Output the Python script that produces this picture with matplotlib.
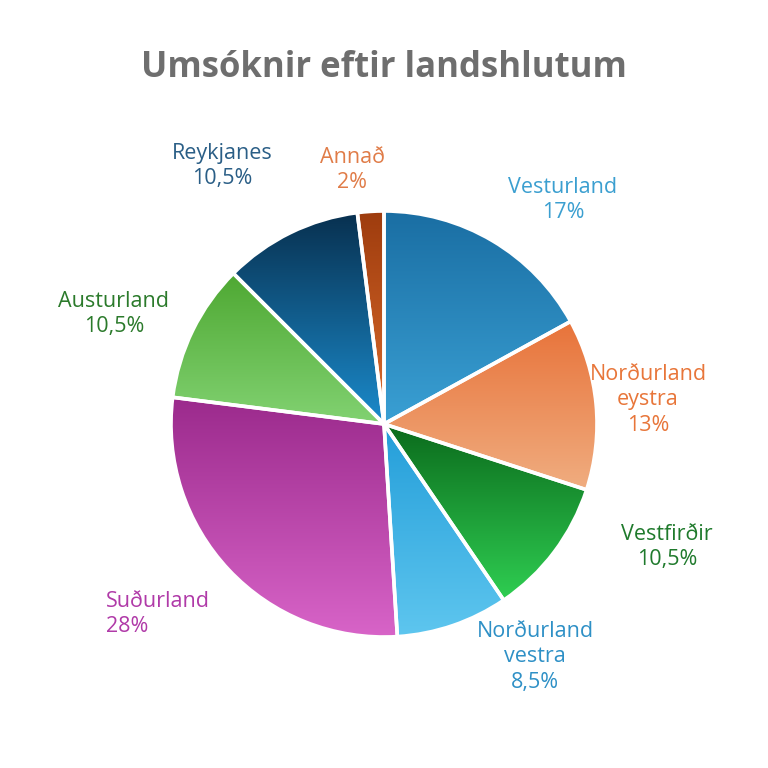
import numpy as np
import matplotlib
matplotlib.use("Agg")
import matplotlib.pyplot as plt
from matplotlib.colors import LinearSegmentedColormap

# ---- data ----
categories = ["Vesturland", "Norðurland\neystra", "Vestfirðir", "Norðurland\nvestra",
              "Suðurland", "Austurland", "Reykjanes", "Annað"]
values = [17, 13, 10.5, 8.5, 28, 10.5, 10.5, 2]
value_labels = ["17%", "13%", "10,5%", "8,5%", "28%", "10,5%", "10,5%", "2%"]
title = "Umsóknir eftir landshlutum"

# ---- style ----
top_colors = ["#1a6ea3", "#e8733a", "#0b6a1c", "#249ed9", "#9b2a8c", "#4ea832", "#08304f", "#9e3c0e"]
bot_colors = ["#3aa0d4", "#f0ad80", "#2fce52", "#5ec6ef", "#d864c8", "#82d272", "#1b8bcc", "#dc6c2c"]
label_colors = ["#3b9fd0", "#e8763a", "#1f7a2c", "#2e90c6", "#b03aa8", "#2b7a2b", "#2a5e86", "#e07c48"]
# label positions in pixels (layout only)
label_px = [(563, 200), (648, 400), (667, 547), (535, 657), (106, 614),
            (114, 314), (222, 166), (352, 170)]
label_ha = ["center"] * 8
label_ha[4] = "left"

plt.rcParams['font.family'] = ['Open Sans', 'DejaVu Sans']

W = H = 768
cx, cy, R = 384, 424, 213
fig = plt.figure(figsize=(7.68, 7.68), dpi=100)
fig.patch.set_facecolor("white")
ax = fig.add_axes([0, 0, 1, 1])
ax.set_xlim(-cx / R, (W - cx) / R)
ax.set_ylim(-(H - cy) / R, cy / R)
ax.set_aspect("equal")
ax.axis("off")

wedges, _ = ax.pie(values, startangle=90, counterclock=False, radius=1,
                   wedgeprops=dict(edgecolor="white", linewidth=2.6, facecolor="none"))

for w, c0, c1 in zip(wedges, top_colors, bot_colors):
    bb = w.get_path().get_extents(w.get_patch_transform())
    cmap = LinearSegmentedColormap.from_list("g", [c1, c0])
    grad = np.linspace(0, 1, 256).reshape(-1, 1)
    im = ax.imshow(grad, cmap=cmap, origin="lower", aspect="auto",
                   extent=[bb.x0, bb.x1, bb.y0, bb.y1], zorder=1, interpolation="bilinear")
    im.set_clip_path(w)
    w.set_zorder(2)

ax.set_xlim(-cx / R, (W - cx) / R)
ax.set_ylim(-(H - cy) / R, cy / R)

for cat, vl, col, (px, py), ha in zip(categories, value_labels, label_colors, label_px, label_ha):
    x = (px - cx) / R
    y = (cy - py) / R
    ax.text(x, y, cat + "\n" + vl, color=col, fontsize=15.5, ha=ha, va="center",
            linespacing=1.3, multialignment=("left" if ha == "left" else "center"))

fig.text(0.5, 1 - 68 / H, title, ha="center", va="center", fontsize=25,
         fontweight="bold", color="#6e6e6e")

fig.savefig("out.png", dpi=100, facecolor="white")
